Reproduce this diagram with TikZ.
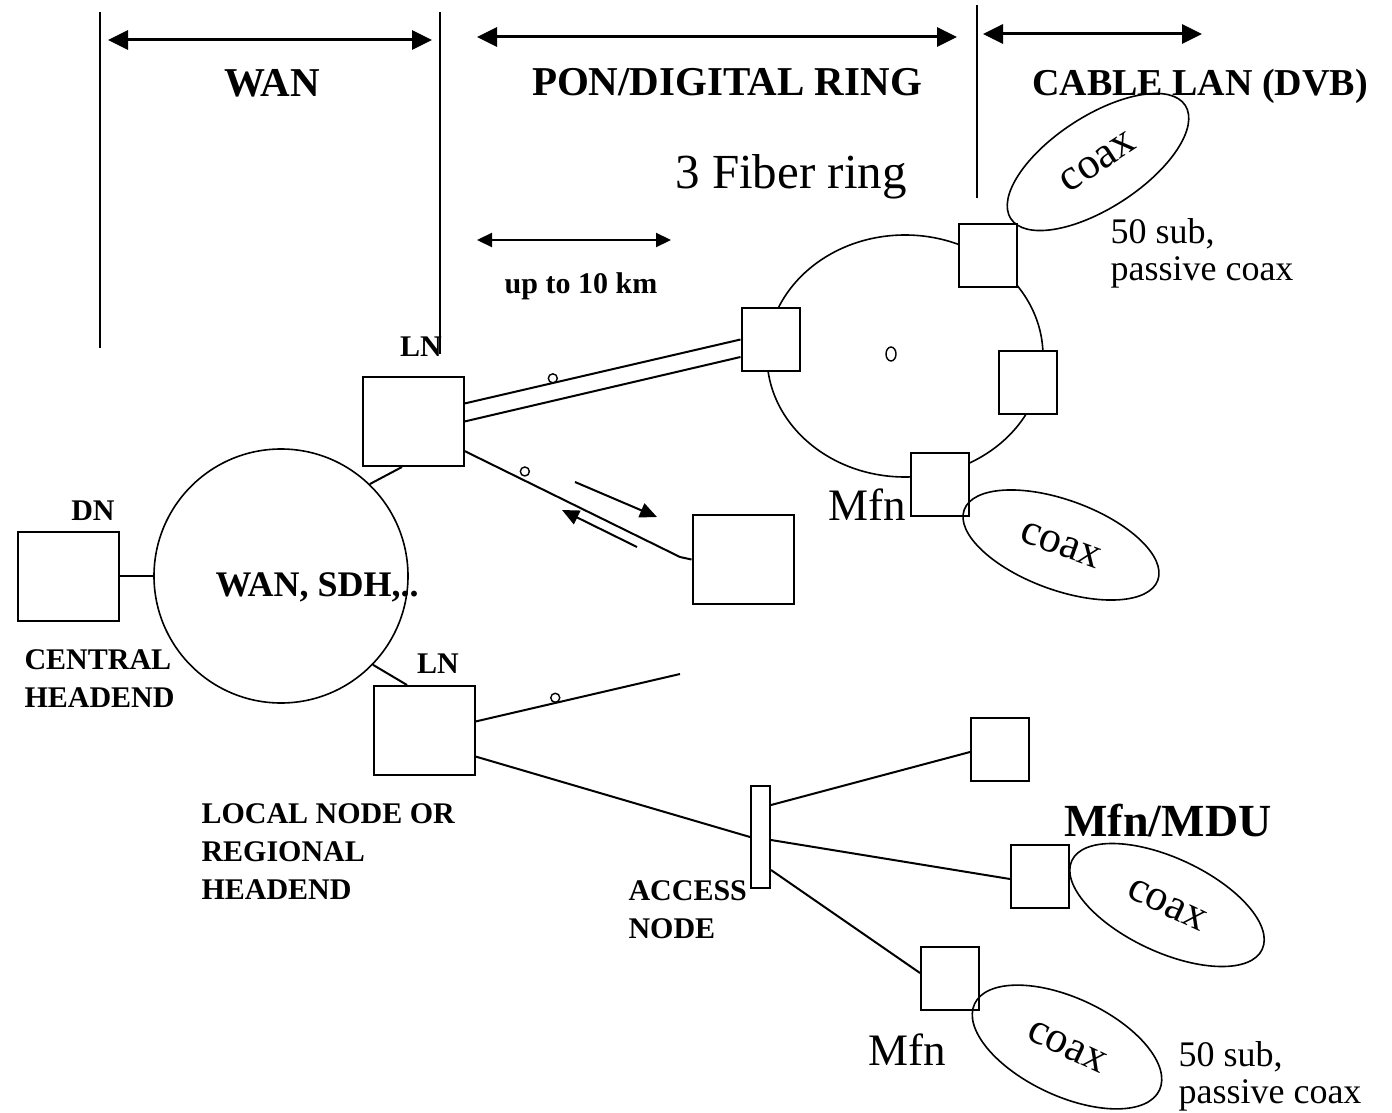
\documentclass[tikz,border=0pt]{standalone}
\usepackage{fontspec}
\setmainfont{Liberation Serif}
\usetikzlibrary{arrows.meta,positioning,shapes.geometric}

\begin{document}
\begin{tikzpicture}[x=1pt,y=-1pt,
    box/.style={draw,fill=white,line width=2pt,inner sep=0pt,minimum width=101pt,minimum height=89pt},
    sbox/.style={box,minimum width=58pt,minimum height=63pt},
    link/.style={line width=2pt},
    sep/.style={line width=2pt},
    span/.style={{Triangle[length=20pt,width=19pt]}-{Triangle[length=20pt,width=19pt]},line width=3pt},
    short/.style={{Triangle[length=15pt,width=14pt]}-{Triangle[length=15pt,width=14pt]},line width=2.2pt},
    flow/.style={-{Triangle[length=17pt,width=15pt]},line width=2pt},
    tap/.style={circle,draw,line width=1.4pt,fill=white,inner sep=0pt,minimum size=9pt},
    cable/.style={ellipse,draw,line width=1.6pt,inner sep=0pt,font=\fontsize{44}{44}\selectfont},
    hdr/.style={anchor=base,font=\fontsize{41}{41}\selectfont\bfseries},
    tag/.style={anchor=base,font=\fontsize{30}{38}\selectfont\bfseries},
    stack/.style={anchor=base west,align=left,font=\fontsize{30}{38}\selectfont\bfseries},
    note/.style={anchor=base west,align=left,font=\fontsize{36}{37}\selectfont},
    big/.style={anchor=base west,font=\fontsize{45}{45}\selectfont}]

    \useasboundingbox (0,0) rectangle (1392,1113);

    \coordinate (s1a) at (100,12); \coordinate (s1b) at (100,348);
    \coordinate (s2a) at (440,12); \coordinate (s2b) at (440,354);
    \coordinate (s3a) at (977,5); \coordinate (s3b) at (977,198);
    \draw[sep] (s1a)--(s1b); \draw[sep] (s2a)--(s2b); \draw[sep] (s3a)--(s3b);
    \coordinate (wanL) at (108,40); \coordinate (wanR) at (432,40);
    \coordinate (ponL) at (477,37); \coordinate (ponR) at (957,37);
    \coordinate (lanL) at (983,34); \coordinate (lanR) at (1202,34);
    \coordinate (kmL) at (477,240); \coordinate (kmR) at (671,240);
    \draw[span] (wanL)--(wanR); \draw[span] (ponL)--(ponR); \draw[span] (lanL)--(lanR); \draw[short] (kmL)--(kmR);
    \node[hdr] (wanlbl) at (272,97) {WAN};
    \node[hdr] (ponlbl) at (727,96) {PON/DIGITAL RING};
    \node[hdr,font=\fontsize{38}{38}\selectfont\bfseries] (lanlbl) at (1200,96) {CABLE LAN (DVB)};
    \node[anchor=base,font=\fontsize{49}{49}\selectfont] (fiberlbl) at (791,188) {3 Fiber ring};
    \node[tag] (kmlbl) at (581,293) {up to 10 km};

    \node[ellipse,draw,line width=1.6pt,minimum width=276pt,minimum height=242pt] (ring) at (905,356) {};
    \node[ellipse,draw,line width=1.4pt,inner sep=0pt,minimum width=10pt,minimum height=14pt] (hub) at (891,354) {};
    \node[sbox] (rl) at (770.5,339.5) {};
    \node[sbox] (rt) at (987.5,255) {};
    \node[sbox] (rr) at (1028,382.5) {};
    \node[sbox] (rb) at (939.5,484) {};
    \node[cable,rotate=33,minimum width=208pt,minimum height=92pt] (cx1) at (1098,162) {coax};
    \node[cable,rotate=-20,minimum width=206pt,minimum height=90pt] (cx2) at (1061,545) {coax};
    \node[note] (sub1) at (1107,280) {50 sub,\\passive coax};
    \node[big] (mfn1) at (825,520) {Mfn};

    \node[box] (dn) at (68,576) {};
    \node[tag] (dnlbl) at (93,520) {DN};
    \node[circle,draw,line width=1.6pt,minimum size=254pt] (wan) at (281,576) {};
    \node[anchor=base west,font=\fontsize{36}{36}\selectfont\bfseries] (wanin) at (212,596) {WAN, SDH,..};
    \node[stack] (cenlbl) at (21,707) {CENTRAL\\HEADEND};
    \node[box] (lnup) at (413,421.5) {};
    \node[tag] (lnuplbl) at (421,356) {LN};
    \node[box] (lnlow) at (424,730.5) {};
    \node[tag] (lnlowlbl) at (438,673) {LN};
    \node[stack] (loclbl) at (198,899) {LOCAL NODE OR\\REGIONAL\\HEADEND};
    \node[box] (far) at (743,559.5) {};
    \draw[link] (dn)--(wan);
    \draw[link] (wan.46)--([xshift=-11pt]lnup.south);
    \draw[link] (wan.-44)--([xshift=-17pt]lnlow.north);
    \draw[link] ([yshift=18pt]lnup.east)--(rl.west) node[pos=.32,above=-0.5pt,tap]{};
    \draw[link] (lnup.east)--([yshift=-17.5pt]rl.west);
    \coordinate (farin) at (680,557);
    \draw[link] ([yshift=16pt]lnup.south east)--(farin) node[pos=.28,above=4pt,tap]{} --(far.west);
    \coordinate (dsA) at (575,482); \coordinate (dsB) at (657,517);
    \coordinate (usA) at (637,547); \coordinate (usB) at (562,510);
    \draw[flow] (dsA)--(dsB); \draw[flow] (usA)--(usB);

    \coordinate (stub) at (680,674);
    \draw[link] ([yshift=9pt]lnlow.east)--(stub) node[pos=.39,above=0pt,tap]{};
    \node[draw,fill=white,line width=2pt,inner sep=0pt,minimum width=19pt,minimum height=102pt] (acc) at (760.5,837) {};
    \draw[link] ([yshift=-26pt]lnlow.east)--(acc.west);
    \node[stack] (acclbl) at (625,938) {ACCESS\\NODE};
    \node[sbox] (ta) at (1000,749) {};
    \node[sbox] (mdu) at (1040,876.5) {};
    \node[sbox] (mfn) at (950,978.5) {};
    \draw[link] ([yshift=32pt]acc.east)--([yshift=-3pt]ta.west);
    \draw[link] ([yshift=-3pt]acc.east)--([yshift=-2.5pt]mdu.west);
    \draw[link] ([yshift=-33pt]acc.east)--([yshift=5.5pt]mfn.west);
    \node[anchor=base west,font=\fontsize{46}{46}\selectfont\bfseries] (mdulbl) at (1061,836) {Mfn/MDU};
    \node[cable,rotate=-25,minimum width=210pt,minimum height=94pt] (cx3) at (1167,905) {coax};
    \node[cable,rotate=-25,minimum width=204pt,minimum height=98pt] (cx4) at (1067,1047) {coax};
    \node[big] (mfn2) at (865,1065) {Mfn};
    \node[note] (sub2) at (1175,1103) {50 sub,\\passive coax};
  \end{tikzpicture}
\end{document}
